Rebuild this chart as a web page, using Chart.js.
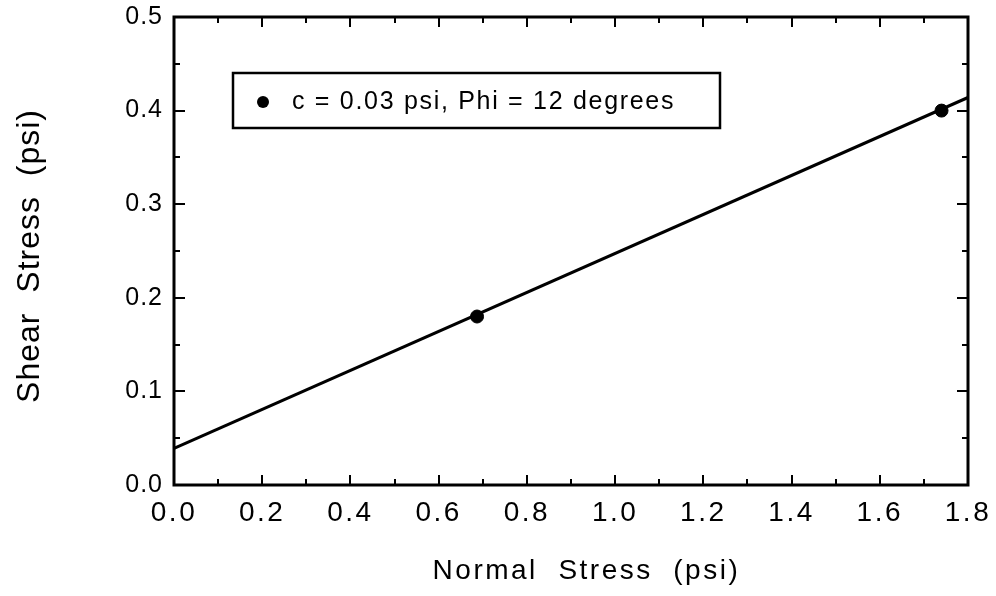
<!DOCTYPE html>
<html>
<head>
<meta charset="utf-8">
<script src="https://cdn.jsdelivr.net/npm/chart.js@4/dist/chart.umd.min.js"></script>
<style>
  html, body { margin: 0; padding: 0; background: #fff; }
  #wrap { width: 996px; height: 596px; }
</style>
</head>
<body>
<div id="wrap"><canvas id="c" width="996" height="596"></canvas></div>
<script>
// Direct shear test results
const normalStress = [0.687, 1.74];          // psi
const shearStress  = [0.180, 0.400];         // psi
// Failure envelope (fitted line), end points
const envelopeX = [0.0, 1.8];
const envelopeY = [0.039, 0.414];
const seriesLabel = 'c = 0.03 psi, Phi = 12 degrees';

const xTitle = '   Normal  Stress  (psi)';
const yTitle = 'Shear  Stress  (psi) ';
const xRange = [0, 1.8], xMajor = 0.2, xMinor = 0.1;
const yRange = [0, 0.5], yMajor = 0.1, yMinor = 0.05;

const FONT = '"Liberation Sans", Arial, Helvetica, sans-serif';
const Y_SPACING = '1px';    // y labels and title (drawn before the datasets)
const X_SPACING = '2.5px';  // x labels and title (drawn after the datasets, z = 1)

// Frame with inward ticks on all four sides + legend box inside the plot
const framePlugin = {
  id: 'frame',
  beforeDraw(chart) {
    chart.ctx.letterSpacing = Y_SPACING;
  },
  afterDatasetsDraw(chart) {
    const ctx = chart.ctx;
    const a = chart.chartArea;
    const xs = chart.scales.x, ys = chart.scales.y;
    ctx.save();
    ctx.letterSpacing = '0px';
    ctx.strokeStyle = '#000';
    ctx.lineCap = 'butt';
    // ticks
    ctx.lineWidth = 2;
    ctx.beginPath();
    const nx = Math.round((xRange[1] - xRange[0]) / xMinor);
    for (let i = 1; i < nx; i++) {
      const v = xRange[0] + i * xMinor;
      const major = i % Math.round(xMajor / xMinor) === 0;
      const len = major ? 10 : 6;
      const px = Math.round(xs.getPixelForValue(v));
      ctx.moveTo(px, a.bottom); ctx.lineTo(px, a.bottom - len);
      ctx.moveTo(px, a.top); ctx.lineTo(px, a.top + len);
    }
    const ny = Math.round((yRange[1] - yRange[0]) / yMinor);
    for (let i = 1; i < ny; i++) {
      const v = yRange[0] + i * yMinor;
      const major = i % Math.round(yMajor / yMinor) === 0;
      const len = major ? 11 : 6;
      const py = Math.round(ys.getPixelForValue(v));
      ctx.moveTo(a.left, py); ctx.lineTo(a.left + len, py);
      ctx.moveTo(a.right, py); ctx.lineTo(a.right - len, py);
    }
    ctx.stroke();
    // frame
    ctx.lineWidth = 3;
    ctx.strokeRect(a.left, a.top, a.right - a.left, a.bottom - a.top);

    // legend box
    const bx = a.left + 59, by = a.top + 56, bw = 487, bh = 55;
    ctx.fillStyle = '#fff';
    ctx.fillRect(bx, by, bw, bh);
    ctx.lineWidth = 2.5;
    ctx.strokeRect(bx, by, bw, bh);
    ctx.fillStyle = '#000';
    ctx.beginPath();
    ctx.arc(bx + 30, by + 29, 6, 0, Math.PI * 2);
    ctx.fill();
    ctx.font = '25px ' + FONT;
    ctx.letterSpacing = '1.7px';
    ctx.textBaseline = 'middle';
    ctx.textAlign = 'left';
    ctx.fillText(chart.data.datasets[0].label, bx + 59, by + 29);
    ctx.restore();
    ctx.letterSpacing = X_SPACING;
  },
  afterDraw(chart) {
    chart.ctx.letterSpacing = '0px';
  }
};

new Chart(document.getElementById('c'), {
  type: 'scatter',
  data: {
    datasets: [
      {
        label: seriesLabel,
        data: normalStress.map((x, i) => ({ x, y: shearStress[i] })),
        backgroundColor: '#000',
        borderColor: '#000',
        pointRadius: 6.5,
        pointHoverRadius: 6.5,
        order: 0
      },
      {
        label: 'envelope',
        data: envelopeX.map((x, i) => ({ x, y: envelopeY[i] })),
        showLine: true,
        borderColor: '#000',
        borderWidth: 3,
        pointRadius: 0,
        fill: false,
        order: 1
      }
    ]
  },
  options: {
    responsive: false,
    animation: false,
    events: [],
    layout: { padding: { top: 17, right: 28, left: 0, bottom: 0 } },
    plugins: { legend: { display: false }, tooltip: { enabled: false } },
    scales: {
      x: {
        type: 'linear',
        min: xRange[0], max: xRange[1],
        grid: { display: false, drawTicks: false, z: 1 },
        border: { display: false },
        ticks: {
          z: 1,
          stepSize: xMajor,
          color: '#000',
          padding: 11,
          maxRotation: 0,
          font: { family: FONT, size: 28 },
          callback: v => v.toFixed(1)
        },
        title: {
          display: true, text: xTitle, color: '#000',
          font: { family: FONT, size: 28 },
          padding: { top: 0, bottom: 8 }
        },
        afterFit(s) { s.height = 111; s.paddingLeft = 0; s.paddingRight = 0; }
      },
      y: {
        type: 'linear',
        min: yRange[0], max: yRange[1],
        grid: { display: false, drawTicks: false },
        border: { display: false },
        ticks: {
          stepSize: yMajor,
          color: '#000',
          padding: 11,
          font: { family: FONT, size: 25 },
          callback: v => v.toFixed(1)
        },
        title: {
          display: true, text: yTitle, color: '#000',
          font: { family: FONT, size: 32 },
          padding: { top: 11, bottom: 0 }
        },
        afterFit(s) { s.width = 174; s.paddingTop = 0; s.paddingBottom = 0; }
      }
    }
  },
  plugins: [framePlugin]
});
</script>
</body>
</html>
